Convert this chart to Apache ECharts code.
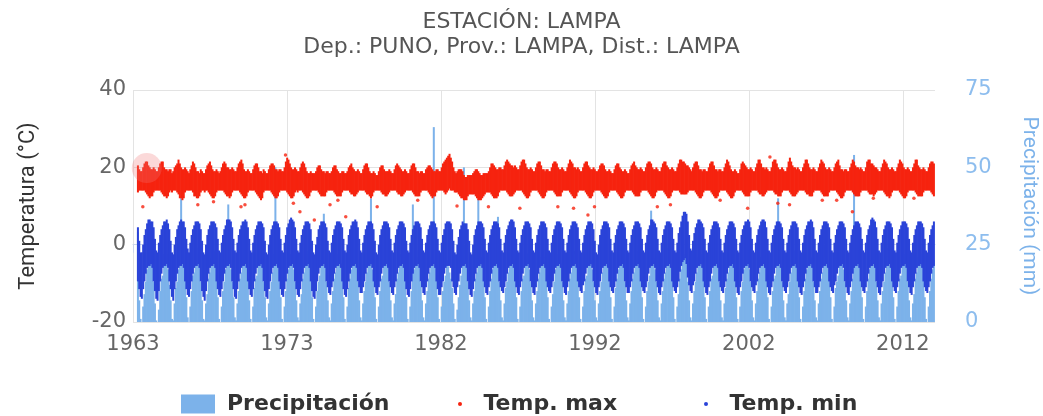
<!DOCTYPE html>
<html>
<head>
<meta charset="utf-8">
<script src="https://cdn.jsdelivr.net/npm/echarts@6/dist/echarts.min.js"></script>
<style>html,body{margin:0;background:#fff}#chart{width:1043px;height:416px}</style>
</head>
<body>
<div id="chart"></div>
<script>
// monthly summaries of the daily record, one row per year (Jan..Dec), from 1963
var firstYear = 1963;
var tickLabels = ['1963', '1973', '1982', '1992', '2002', '2012'];
var tickStep = 9.8; // years between labelled ticks

// Temp. max: upper / lower edge of the daily cloud (°C)
var tmaxHi = [
  null,null,null,20.5,19.5,19,19,20,21,21.5,21.5,20.5,
  20,19.5,19.5,20,19.5,19,19,20,21,21.5,21.5,20,
  19.5,19.5,19,19.5,19.5,18.5,19,20,20.5,21,22,21,
  20,19.5,19.5,20,19.5,19,18.5,19.5,20.5,21.5,21,20,
  19,19,18.5,19.5,19,18.5,18.5,19.5,20.5,21,21.5,20.5,
  19.5,19,19,19.5,19,18.5,19,20,21,21.5,21,20,
  20,19.5,19.5,20,19.5,19,19,20,21,21.5,22,21,
  19.5,19,19,19.5,19,18.5,18.5,19.5,20.5,21,21,20,
  19,19,18.5,19.5,19,18.5,18.5,19.5,20.5,21,21,20.5,
  19.5,19.5,19,19.5,19.5,19,19,20,21.5,22.5,22,21,
  20,19.5,19.5,20,19.5,19,19,20,21,21.5,21,20,
  19,18.5,18.5,19,18.5,18.5,18.5,19,20,20.5,20.5,19.5,
  19,19,18.5,19,19,18.5,18.5,19,20,20.5,20.5,19.5,
  19,18.5,18.5,19,19,18.5,18.5,19,20,20.5,21,20,
  19.5,19,19,19.5,19,18.5,18.5,19.5,20.5,21,21,20,
  19,18.5,18.5,19,18.5,18,18,19,20,20.5,20.5,19.5,
  19,19,19,19.5,19,18.5,18.5,19.5,20.5,21,20.5,20,
  19.5,19,19,19.5,19,18.5,18.5,19.5,20.5,21,21,20,
  19,19,18.5,19,19,18.5,18.5,19.5,20,20.5,20.5,20,
  19.5,19,19,19.5,19.5,19,19,20,21,21.5,22,22.5,
  23,23.5,22.5,21.5,20,19,18.5,19,19.5,19.5,19.5,19,
  18,17.5,17.5,18,18,18,18,18.5,19,19.5,19.5,19,
  18.5,18,18,18.5,18.5,18.5,18.5,19,20,21,21,20.5,
  20,19.5,19.5,20,20,19.5,19.5,20.5,21.5,22,21.5,21,
  20.5,20.5,20,20.5,20,19.5,19.5,20.5,21.5,22,22,21,
  20,19.5,19.5,20,19.5,19,19,20,21,21.5,21.5,20.5,
  19.5,19.5,19,19.5,19.5,19,19,20,21,21.5,21.5,21,
  20,19.5,19.5,20,19.5,19,19,20,21,22,21.5,21,
  20,20,19.5,20,19.5,19,19,20,21,21.5,21.5,20.5,
  20,19.5,19.5,20,19.5,19,19,19.5,20.5,21,21,20.5,
  19.5,19,19,19.5,19,18.5,18.5,19.5,20.5,21,21,20,
  19.5,19,19,19.5,19,18.5,18.5,19.5,20.5,21,21.5,20.5,
  20,19.5,19.5,20,19.5,19,19,20,21,21.5,21.5,21,
  20,19.5,19.5,20,19.5,19,19,20,21,21.5,21.5,20.5,
  20,19.5,19.5,20,19.5,19,19,20,21,22,22,21.5,
  21.5,21,20.5,20.5,20,19.5,19,20,21,21.5,21.5,20.5,
  19.5,19.5,19,19.5,19.5,19,19,20,21,21.5,21.5,20.5,
  19.5,19.5,19,19.5,19.5,19,19,20,21,22,21.5,20.5,
  19.5,19,19,19.5,19,18.5,18.5,19.5,21,21.5,21,20.5,
  20,19.5,19.5,20,19.5,19,19,20,21,22,22,21,
  20,20,19.5,20,19.5,19,19,20,21.5,22,22,21,
  20,19.5,19.5,20,19.5,19,19,20,21.5,22.5,21.5,20.5,
  20,20,19.5,20,19.5,19,19,20,21,22,22,21,
  20,19.5,19.5,20,19.5,19,19,20,21,22,21.5,21,
  20,19.5,19.5,20,19.5,19,19,20,21,21.5,22,20.5,
  19.5,19.5,19,19.5,19.5,19,19,20,21,22,21.5,20.5,
  20,20,19.5,20,19.5,19,19,20,21.5,22,22,21,
  21,20.5,20,20,19.5,19,19,20,21,22,21.5,21,
  20,19.5,19.5,20,19.5,19,19,20,21,22,21.5,21,
  20,19.5,19.5,20,19.5,19,19,20,21,22,22,20.5,
  20,19.5,19.5,20,19.5,19,19,20,21,21.5,21.5,21
];
var tmaxLo = [
  null,null,null,13.5,14,14,14,14,14,13.5,13,12.5,
  12,12.5,12.5,13.5,14,14,14,14,14,13.5,13,12.5,
  12.5,12,12.5,13.5,14,13.5,14,14,14,13.5,13,12,
  12,11.5,12,13.5,14,14,14,14,14,13.5,12.5,12.5,
  12,12,12.5,13.5,14,14,13.5,14,14,13.5,13,12.5,
  12,12,12.5,13.5,14,14,14,14,14,13.5,13,12.5,
  12.5,12,12.5,13.5,14,14,14,14,14,13.5,13,12.5,
  12,12,12.5,13.5,14,14,14,14,14,13.5,13,12.5,
  12,11.5,12,13.5,14,14,14,14,14,13.5,13,12.5,
  12,12,12.5,13.5,14,14,14,14,14,13.5,13,12.5,
  12,12,12.5,13.5,14,13.5,14,14,14,13.5,13,12.5,
  12,12,12.5,13.5,14,14,14,14,14,13.5,13,12.5,
  12.5,12.5,12.5,13.5,14,14,14,14,14,13.5,13,12.5,
  12.5,12.5,12.5,13.5,14,14,14,14,14,13.5,13,13,
  12.5,12.5,13,13.5,14,14,14,14,14,13.5,13,13,
  12.5,12,12.5,13.5,14,14,14,14,14,13.5,13,13,
  12.5,12.5,13,13.5,14,14,14,14,14,13.5,13,13,
  12.5,12.5,13,13.5,14,14,14,14,14,13.5,13,12.5,
  12.5,12.5,12.5,13.5,14,14,14,14,14,13.5,13,12.5,
  12,12.5,12.5,13.5,14,14,14,14,14,13.5,13,13.5,
  14,14.5,14,14,14,13.5,13.5,13.5,13,12.5,12,12,
  11.5,11.5,11.5,12.5,13,13,13,13,13,12.5,12,11.5,
  11.5,11.5,12,12.5,13,13.5,13.5,13.5,13.5,13,12.5,12,
  12,12,12.5,13.5,14,14,14,14,14,13.5,13,12.5,
  12.5,12.5,13,13.5,14,14,14,14,14,13.5,13,12.5,
  12,12,12.5,13.5,14,14,14,14,14,13.5,13,12.5,
  12,12,12.5,13.5,14,14,14,14,14,13.5,13,12.5,
  12.5,12.5,12.5,13.5,14,14,14,14,14,13.5,13,12.5,
  12,12,12.5,13.5,14,14,14,14,14,13.5,13,12.5,
  12,12,12.5,13.5,14,14,14,14,14,13.5,13,12.5,
  12,12,12.5,13.5,14,14,14,14,14,13.5,13,12.5,
  12,12,12.5,13.5,14,14,14,14,14,13.5,13,12.5,
  12.5,12.5,12.5,13.5,14,14,14,14,14,13.5,13,12.5,
  12,12,12.5,13.5,14,14,14,14,14,13.5,13,12.5,
  12,12,12.5,13.5,14,14,14,14,14,13.5,13,13,
  13,13,13,13.5,14,14,14,14,14,13.5,13,12.5,
  12,12,12.5,13.5,14,14,14,14,14,13.5,13,12.5,
  12,12,12.5,13.5,14,14,14,14,14,13.5,13,12.5,
  12,12,12.5,13.5,14,14,14,14,14,13.5,13,12.5,
  12.5,12.5,12.5,13.5,14,14,14,14,14,13.5,13,13,
  12.5,12.5,13,13.5,14,14,14,14,14,13.5,13,13,
  12.5,12.5,12.5,13.5,14,14,14,14,14,13.5,13,12.5,
  12.5,12.5,13,13.5,14,14,14,14,14,13.5,13,13,
  12.5,12.5,12.5,13.5,14,14,14,14,14,13.5,13,12.5,
  12.5,12.5,12.5,13.5,14,14,14,14,14,13.5,13,12.5,
  12,12,12.5,13.5,14,14,14,14,14,13.5,13,12.5,
  12.5,12.5,12.5,13.5,14,14,14,14,14,13.5,13,13,
  13,12.5,13,13.5,14,14,14,14,14,13.5,13,12.5,
  12.5,12,12.5,13.5,14,14,14,14,14,13.5,13,12.5,
  12,12,12.5,13.5,14,14,14,14,14,13.5,13,12.5,
  12.5,12.5,12.5,13.5,14,14,14,14,14,13.5,13,12.5
];
// Temp. max days lying outside the dense cloud: [month index, °C]
var tmaxOutliers = [
  [7, 9.8], [49, 10.3], [61, 11.1], [82, 9.8], [85, 10.3], [116, 23.2], [122, 10.7],
  [127, 8.5], [138, 6.4], [150, 10.3], [156, 11.5], [162, 7.2], [186, 9.8], [217, 11.5],
  [247, 10], [271, 9.8], [295, 9.4], [324, 9.8], [336, 9.4], [347, 7.7], [352, 9.8],
  [400, 9.8], [410, 10.3], [448, 11.5], [469, 9.4], [486, 22.7], [492, 10.7], [501, 10.3],
  [526, 11.5], [537, 11.5], [549, 8.5], [565, 12], [596, 12]
];

// Temp. min: upper / lower edge of the daily cloud (°C)
var tminHi = [
  null,null,null,4.5,1,-2,-2,0,2.5,4,5.5,6.5,
  6.5,6,6,4.5,1.5,-1.5,-2,0.5,2.5,4,5,6,
  6,6.5,5.5,4,1,-2,-2.5,0,2,4,5,6,
  6.5,6,6,4.5,1.5,-1,-2,0.5,2.5,4,5,6,
  6,6,5.5,4,1,-2,-2.5,0,2.5,4,5,6,
  6,6,5.5,4.5,1.5,-1.5,-2,0.5,2.5,4,5,6.5,
  6.5,6.5,6,4.5,1.5,-1.5,-2,0.5,2.5,4,5,6,
  6,6.5,6,4.5,1.5,-1.5,-2,0.5,2.5,4,5,6,
  6,6,5.5,4.5,1,-2,-2.5,0,2.5,4,5,6,
  6,6,5.5,4.5,1.5,-1.5,-2,0.5,2.5,4.5,5.5,6.5,
  7,6.5,6,4.5,1.5,-1.5,-2,0.5,2.5,4,5,6,
  6,6,5.5,4,1,-2,-2.5,0,2,4,5,6,
  6,6,5.5,4.5,1,-1.5,-2,0.5,2.5,4,5,6,
  6,6,5.5,4.5,1.5,-1.5,-2,0,2.5,4,5,6,
  6,6.5,6,4.5,1.5,-1.5,-2,0.5,2.5,4,5,6,
  6,6,5.5,4,1,-2,-2.5,0,2.5,4,5,6,
  6,6,5.5,4.5,1.5,-1.5,-2,0.5,2.5,4,5,6,
  6,6,5.5,4.5,1,-1.5,-2,0.5,2.5,4,5,6,
  6,6,5.5,4.5,1.5,-1.5,-2,0.5,2.5,4,5,6,
  6,6,5.5,4.5,1.5,-1.5,-2,0.5,2.5,4,5.5,6,
  6,6,5.5,4,1,-2,-2.5,0,2,4,5,6,
  5.5,5.5,5.5,4,1,-2,-2.5,0,2.5,4,5,6,
  6,6,5.5,4.5,1.5,-1.5,-2,0.5,2.5,4,5,6,
  6,6,5.5,4.5,1.5,-1.5,-2,0.5,2.5,4,5,6,
  6.5,6.5,6,4.5,1.5,-1.5,-2,0.5,2.5,4,5,6,
  6,6,5.5,4.5,1.5,-1.5,-2,0.5,2.5,4,5,6,
  6,6,5.5,4.5,1.5,-1.5,-2,0.5,2.5,4,5,6,
  6,6,5.5,4.5,1.5,-1.5,-2,0.5,2.5,4,5,6,
  6,6,5.5,4.5,1.5,-1.5,-2,0.5,2.5,4,5,6,
  6,6,5.5,4,1,-2,-2.5,0,2.5,4,5,6,
  6,6,5.5,4.5,1.5,-1.5,-2,0.5,2.5,4,5,6,
  6,6,5.5,4.5,1.5,-1.5,-2,0.5,2.5,4,5,6,
  6,6,5.5,4.5,1.5,-1.5,-2,0.5,2.5,4,5,6.5,
  6.5,6,5.5,4.5,1.5,-1.5,-2,0.5,2.5,4,5,6,
  6,6,5.5,4.5,1.5,-1.5,-2,0.5,3,4.5,6,7.5,
  8.5,8.5,8,6,2.5,-1,-1.5,1,3,4.5,5.5,6.5,
  6.5,6,5.5,4.5,1.5,-1.5,-2,0.5,2.5,4,5,6,
  6,6,5.5,4.5,1.5,-1.5,-2,0.5,2.5,4,5,6,
  6,6,5.5,4.5,1.5,-1.5,-2,0.5,2.5,4,5,6,
  6,6.5,6,4.5,1.5,-1.5,-2,0.5,2.5,4,5,6,
  6.5,6.5,6,4.5,1.5,-1.5,-2,0.5,2.5,4,5,6,
  6,6,5.5,4.5,1.5,-1.5,-2,0.5,2.5,4,5,6,
  6,6,5.5,4.5,1.5,-1.5,-2,0.5,2.5,4,5,6,
  6,6.5,6,4.5,1.5,-1.5,-2,0.5,2.5,4,5,6,
  6,6,5.5,4.5,1.5,-1.5,-2,0.5,2.5,4,5,6,
  6,6,5.5,4.5,1.5,-1.5,-2,0.5,2.5,4,5,6,
  6,6,5.5,4.5,1.5,-1.5,-2,0.5,2.5,4,5,6.5,
  7,6.5,6,4.5,1.5,-1.5,-2,0.5,2.5,4,5,6,
  6,6,5.5,4.5,1.5,-1.5,-2,0.5,2.5,4,5,6,
  6,6,5.5,4.5,1.5,-1.5,-2,0.5,2.5,4,5,6,
  6,6,5.5,4.5,1.5,-1.5,-2,0.5,2.5,4,5,6
];
var tminLo = [
  null,null,null,-9.5,-11.5,-13.5,-14,-11.5,-9.5,-7.5,-6,-5.5,
  -5.5,-5,-6,-9.5,-12,-14,-14.5,-12,-9.5,-7.5,-6,-5.5,
  -5.5,-5,-6,-9.5,-11.5,-13.5,-14.5,-11.5,-9.5,-7.5,-6,-5.5,
  -5.5,-5,-6,-9.5,-11.5,-13,-13.5,-11.5,-9.5,-7.5,-6,-5.5,
  -5.5,-5,-6,-9.5,-12,-13.5,-14.5,-12,-9.5,-7.5,-6,-5.5,
  -5.5,-5,-6,-9.5,-11.5,-13,-13.5,-11.5,-9.5,-7.5,-6,-5.5,
  -5.5,-5,-6,-9.5,-11.5,-13.5,-14,-11.5,-9.5,-7.5,-6,-5.5,
  -5.5,-5,-6,-9.5,-11.5,-13,-13.5,-11.5,-9.5,-7.5,-6,-5.5,
  -5.5,-5,-6,-9.5,-12,-13.5,-14,-11.5,-9.5,-7.5,-6,-5.5,
  -5.5,-5,-6,-9.5,-11.5,-13,-13.5,-11.5,-9.5,-7.5,-6,-5.5,
  -5.5,-5,-6,-9.5,-11.5,-13,-13.5,-11.5,-9.5,-7.5,-6,-5.5,
  -5.5,-5,-6,-9.5,-12,-13.5,-14,-12,-9.5,-7.5,-6,-5.5,
  -5.5,-5,-6,-9.5,-11,-12.5,-13,-11,-9.5,-7.5,-6,-5.5,
  -5.5,-5,-6,-9.5,-11.5,-13,-13.5,-11.5,-9.5,-7.5,-6,-5.5,
  -5.5,-5,-6,-9.5,-11,-12.5,-12.5,-11,-9.5,-7.5,-6,-5.5,
  -5.5,-5,-6,-9.5,-11,-12.5,-13,-11,-9.5,-7.5,-6,-5.5,
  -5.5,-5,-6,-9.5,-11,-12.5,-13,-11,-9.5,-7.5,-6,-5.5,
  -5.5,-5,-6,-9.5,-11.5,-13,-13.5,-11.5,-9.5,-7.5,-6,-5.5,
  -5.5,-5,-6,-9.5,-11,-12.5,-13,-11,-9.5,-7.5,-6,-5.5,
  -5.5,-5,-6,-9.5,-11.5,-13,-13,-11,-9.5,-7.5,-6,-5.5,
  -5.5,-5.5,-6,-9.5,-11,-12.5,-13,-11,-9.5,-7.5,-6,-5.5,
  -5.5,-5,-6,-9.5,-11.5,-13,-13.5,-11.5,-9.5,-7.5,-6,-5.5,
  -5.5,-5,-6,-9.5,-11,-12.5,-13,-11,-9.5,-7.5,-6,-5.5,
  -5.5,-5,-6,-9.5,-11,-12,-12.5,-11,-9.5,-7.5,-6,-5.5,
  -5.5,-5,-6,-9.5,-11,-12.5,-13,-11,-9.5,-7.5,-6,-5.5,
  -5.5,-5,-6,-9.5,-11,-12.5,-13,-11,-9.5,-7.5,-6,-5.5,
  -5.5,-5,-6,-9.5,-11,-12,-12.5,-11,-9.5,-7.5,-6,-5.5,
  -5.5,-5,-6,-9.5,-11,-12.5,-13,-11,-9.5,-7.5,-6,-5.5,
  -5.5,-5,-6,-9.5,-11,-12,-12.5,-10.5,-9.5,-7.5,-6,-5.5,
  -5.5,-5,-6,-9.5,-11,-12.5,-13,-11,-9.5,-7.5,-6,-5.5,
  -5.5,-5,-6,-9.5,-11,-12,-12.5,-11,-9.5,-7.5,-6,-5.5,
  -5.5,-5,-6,-9.5,-11,-12.5,-12.5,-11,-9.5,-7.5,-6,-5.5,
  -5.5,-5,-6,-9.5,-11,-12,-12.5,-11,-9.5,-7.5,-6,-5.5,
  -5.5,-5,-6,-9.5,-11,-12.5,-13,-11,-9.5,-7.5,-6,-5.5,
  -5.5,-5,-6,-9.5,-11,-12,-12.5,-11,-9.5,-7,-5.5,-4.5,
  -4,-3.5,-5,-8.5,-10.5,-12,-12.5,-10.5,-9.5,-7.5,-6,-5.5,
  -5.5,-5,-6,-9.5,-11,-12.5,-13,-11,-9.5,-7.5,-6,-5.5,
  -5.5,-5,-6,-9.5,-11,-12,-12.5,-11,-9.5,-7.5,-6,-5.5,
  -5.5,-5,-6,-9.5,-11,-12.5,-13,-11,-9.5,-7.5,-6,-5.5,
  -5.5,-5,-6,-9.5,-11,-12,-12.5,-10.5,-9.5,-7.5,-6,-5.5,
  -5.5,-5,-6,-9.5,-11,-12.5,-13,-11,-9.5,-7.5,-6,-5.5,
  -5.5,-5,-6,-9.5,-11,-12,-12.5,-11,-9.5,-7.5,-6,-5.5,
  -5.5,-5,-6,-9.5,-11,-12.5,-13,-11,-9.5,-7.5,-6,-5.5,
  -5.5,-5,-6,-9.5,-11,-12.5,-12.5,-11,-9.5,-7.5,-6,-5.5,
  -5.5,-5,-6,-9.5,-11,-12,-12.5,-10.5,-9.5,-7.5,-6,-5.5,
  -5.5,-5,-6,-9.5,-11,-12.5,-13,-11,-9.5,-7.5,-6,-5.5,
  -5.5,-5,-6,-9.5,-11,-12,-12.5,-11,-9.5,-7.5,-6,-5.5,
  -5.5,-5,-6,-9.5,-11,-12.5,-13,-11,-9.5,-7.5,-6,-5.5,
  -5.5,-5,-6,-9.5,-11,-12,-12.5,-11,-9.5,-7.5,-6,-5.5,
  -5.5,-5,-6,-9.5,-11,-12.5,-13,-11,-9.5,-7.5,-6,-5.5,
  -5.5,-5,-6,-9.5,-11,-12,-12.5,-11,-9.5,-7.5,-6,-5.5
];

// Precipitación: largest daily total in each month (mm)
var precip = [
  null,null,null,29,7,1,0,5,9,13,17,21,
  23,20,18,13,6,0.5,0,4,10,14,15,22,
  21,22,17,12,7,1,0.5,6,11,13,17,19,
  40,21,18,14,8,1.5,0,5,10,15,16,20,
  24,22,19,13,7,1,0.5,6,9,14,16,21,
  22,23,18,14,8,1,0,5,10,13,17,20,
  38,21,17,13,8,1.5,0.5,6,10,14,16,21,
  22,20,18,14,7,1,0,5,11,14,15,20,
  23,21,19,13,8,1.5,0.5,6,10,13,16,22,
  50,22,18,14,8,1,0,5,10,14,17,20,
  22,21,17,13,7,1.5,0.5,6,9,14,16,21,
  23,22,18,14,8,1,0,5,10,13,15,20,
  21,35,18,13,7,1.5,0.5,6,10,14,16,21,
  22,21,19,14,8,1,0,5,11,14,17,20,
  24,22,18,13,7,1.5,0.5,6,10,13,16,22,
  22,40,17,14,8,1,0,5,10,14,15,20,
  23,21,18,13,7,1.5,0.5,6,9,14,16,21,
  22,22,19,14,8,1,0,5,10,38,17,20,
  23,21,18,13,7,1.5,0.5,6,10,14,16,21,
  22,63,18,14,8,1,0,5,10,13,15,20,
  18,16,14,11,6,1,0,4,8,12,15,19,
  50,22,18,13,7,1.5,0.5,6,10,14,16,40,
  23,21,19,14,8,1,0,5,10,14,17,20,
  22,22,34,13,7,1.5,0.5,6,11,13,16,21,
  23,21,18,14,8,1,0,5,10,14,15,20,
  22,22,17,13,7,1.5,0.5,6,10,14,16,21,
  24,21,18,14,8,1,0,5,9,13,17,20,
  22,21,19,13,7,1.5,0.5,6,10,14,16,21,
  23,22,18,14,8,1,0,5,10,14,15,20,
  21,20,17,13,7,1.5,0.5,6,10,13,16,21,
  23,22,18,14,8,1,0,5,11,14,17,20,
  22,21,19,13,7,1.5,0.5,6,10,14,16,21,
  23,22,18,14,8,1,0,5,10,13,15,36,
  22,21,17,13,7,1.5,0.5,6,10,14,16,21,
  24,22,18,14,8,1,0,5,9,14,17,20,
  22,21,19,13,7,1.5,0.5,6,10,13,16,21,
  23,22,18,14,8,1,0,5,10,14,15,20,
  22,21,18,13,7,1.5,0.5,6,11,14,16,21,
  23,22,19,14,8,1,0,5,10,13,17,20,
  22,21,17,13,7,1.5,0.5,6,10,14,16,21,
  24,22,18,14,8,1,0,5,10,14,15,20,
  40,21,18,13,7,1.5,0.5,6,9,13,16,21,
  23,22,19,14,8,1,0,5,10,14,17,20,
  22,21,18,13,7,1.5,0.5,6,10,14,16,21,
  30,22,18,14,8,1,0,5,11,13,15,20,
  22,21,17,13,7,1.5,0.5,6,10,14,54,20,
  23,22,18,14,8,1,0,5,10,14,17,20,
  22,21,19,13,7,1.5,0.5,6,10,13,16,21,
  24,22,18,14,8,1,0,5,10,14,15,20,
  22,21,18,13,7,1.5,0.5,6,9,14,16,21,
  23,22,19,14,8,1,0,5,10,14,17,20
];

// highlighted (hovered) point: month index, °C
var hoverPoint = [10, 19.8];

var RED = '#f6230f', BLUE = '#2a43d8', RAIN = '#7cb2ea';

function monthX(i) {
  return Math.floor(i / 12) + (i % 12 + 0.5) / 12;
}
function rangeData(lo, hi) {
  var out = [];
  for (var i = 0; i < hi.length; i++) {
    if (hi[i] == null) continue;
    out.push([monthX(i), lo == null ? 0 : lo[i], hi[i]]);
  }
  return out;
}
function rangeBars(color) {
  return function (params, api) {
    var x = api.value(0);
    var a = api.coord([x - 1 / 24, api.value(2)]);
    var b = api.coord([x + 1 / 24, api.value(1)]);
    return {
      type: 'rect',
      shape: { x: a[0], y: a[1], width: b[0] - a[0] + 0.7, height: b[1] - a[1] },
      style: { fill: color }
    };
  };
}

var tickValues = tickLabels.map(function (l, k) { return k * tickStep; });
var axisFont = 'DejaVu Sans';
var legendText = { fontFamily: axisFont, fontSize: 22, fontWeight: 'bold', color: '#333' };

var chart = echarts.init(document.getElementById('chart'));
var option = {
  animation: false,
  title: {
    text: 'ESTACIÓN: LAMPA',
    subtext: 'Dep.: PUNO, Prov.: LAMPA, Dist.: LAMPA',
    left: 'center',
    top: 6,
    itemGap: 3,
    textStyle: { fontFamily: axisFont, fontSize: 22, fontWeight: 'normal', color: '#555' },
    subtextStyle: { fontFamily: axisFont, fontSize: 22, color: '#555' }
  },
  legend: [
    {
      left: 181, top: 393, padding: 0, itemWidth: 34, itemHeight: 19,
      data: [{ name: 'Precipitación', icon: 'rect' }],
      textStyle: Object.assign({ padding: [0, 0, 0, 7] }, legendText)
    },
    {
      left: 458, top: 393, padding: 0, itemWidth: 21, itemHeight: 4,
      data: [{ name: 'Temp. max', icon: 'circle' }],
      textStyle: Object.assign({ padding: [0, 0, 0, 8] }, legendText)
    },
    {
      left: 704, top: 393, padding: 0, itemWidth: 21, itemHeight: 4,
      data: [{ name: 'Temp. min', icon: 'circle' }],
      textStyle: Object.assign({ padding: [0, 0, 0, 8] }, legendText)
    }
  ],
  grid: { left: 133, right: 108, top: 90, bottom: 94, outerBoundsMode: 'none' },
  xAxis: {
    type: 'value',
    min: 0,
    max: 51.05,
    axisLine: { show: true, lineStyle: { color: '#ccd6eb' } },
    axisTick: { show: true, length: 8, customValues: tickValues, lineStyle: { color: '#ccd6eb' } },
    axisLabel: {
      customValues: tickValues,
      color: '#666', fontSize: 21, fontFamily: axisFont, margin: 12,
      formatter: function (v) { return tickLabels[Math.round(v / tickStep)] || ''; }
    },
    splitLine: { show: true, lineStyle: { color: '#e3e3e3' } }
  },
  yAxis: [
    {
      type: 'value', min: -20, max: 40, interval: 20,
      name: 'Temperatura (°C)', nameLocation: 'middle', nameRotate: 90, nameGap: 94,
      nameTextStyle: { fontFamily: 'Roboto', fontSize: 22, color: '#333' },
      axisLabel: { color: '#666', fontSize: 21, fontFamily: axisFont, margin: 7 },
      axisLine: { show: false }, axisTick: { show: false },
      splitLine: { lineStyle: { color: '#e3e3e3' } }
    },
    {
      type: 'value', min: 0, max: 75, interval: 25, position: 'right',
      name: 'Precipitación (mm)', nameLocation: 'middle', nameRotate: -90, nameGap: 84,
      nameTextStyle: { fontFamily: 'Roboto', fontSize: 21, color: RAIN },
      axisLabel: { color: '#8dbdee', fontSize: 21, fontFamily: axisFont, margin: 30 },
      axisLine: { show: false }, axisTick: { show: false },
      splitLine: { show: false }
    }
  ],
  series: [
    {
      name: 'Precipitación', type: 'custom', yAxisIndex: 1,
      itemStyle: { color: RAIN },
      renderItem: rangeBars(RAIN),
      encode: { x: 0, y: [1, 2] },
      data: rangeData(null, precip)
    },
    {
      name: 'Temp. max', type: 'custom',
      itemStyle: { color: RED },
      renderItem: rangeBars(RED),
      encode: { x: 0, y: [1, 2] },
      data: rangeData(tmaxLo, tmaxHi)
    },
    {
      name: 'Temp. max', type: 'scatter', symbolSize: 3.5,
      itemStyle: { color: RED },
      data: tmaxOutliers.map(function (p) { return [monthX(p[0]), p[1]]; })
    },
    {
      name: 'Temp. min', type: 'custom',
      itemStyle: { color: BLUE },
      renderItem: rangeBars(BLUE),
      encode: { x: 0, y: [1, 2] },
      data: rangeData(tminLo, tminHi)
    },
    {
      name: 'hover', type: 'scatter', silent: true, z: 5,
      symbolSize: 30,
      itemStyle: { color: 'rgba(240,120,120,0.35)' },
      data: [[monthX(hoverPoint[0]), hoverPoint[1]]]
    }
  ]
};
chart.setOption(option);
window.addEventListener('resize', chart.resize);
</script>
</body>
</html>
